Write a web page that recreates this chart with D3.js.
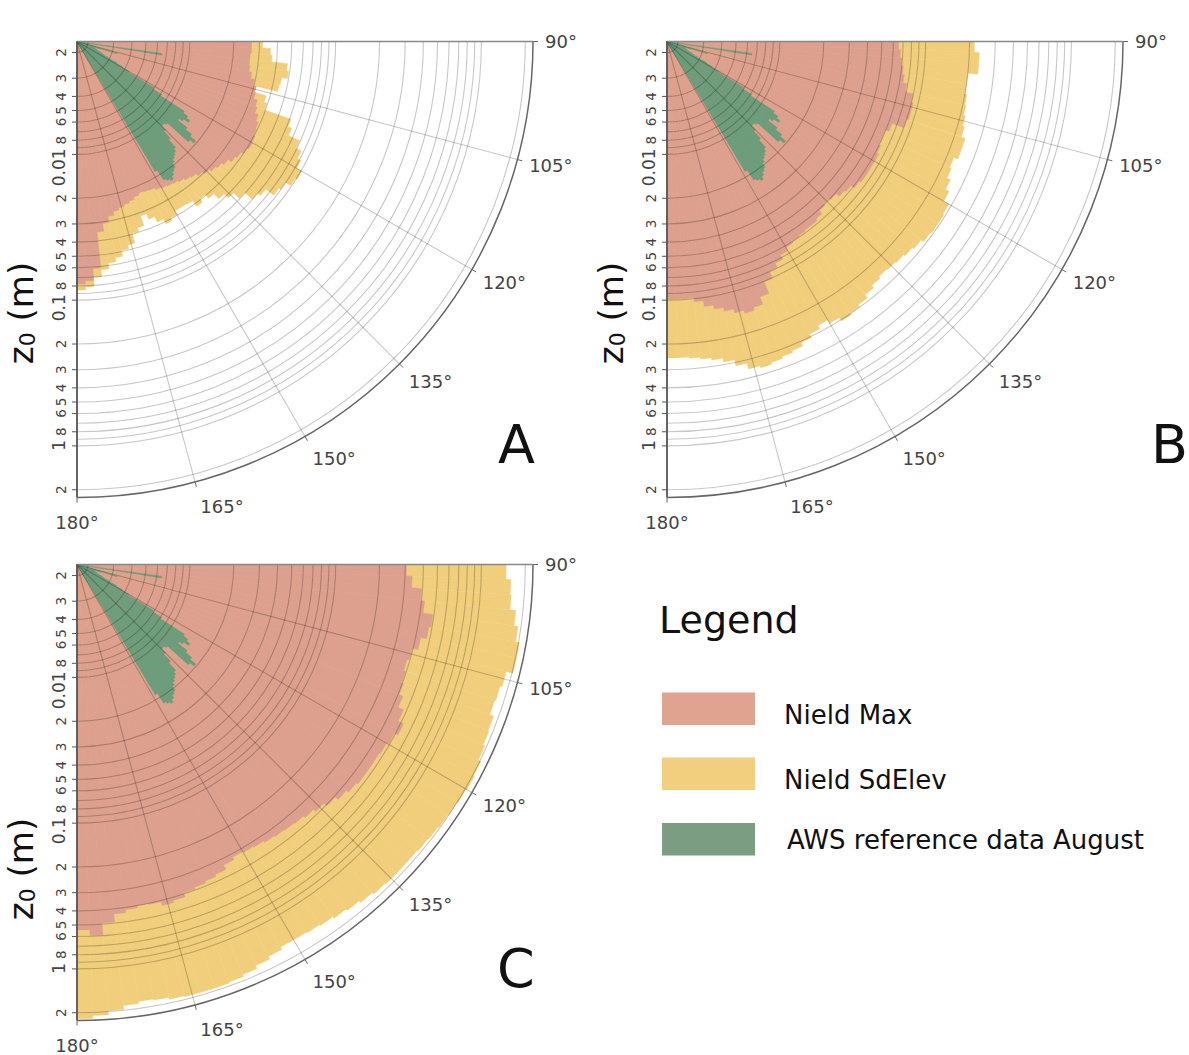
<!DOCTYPE html>
<html>
<head>
<meta charset="utf-8">
<script src="https://cdn.jsdelivr.net/npm/d3@7"></script>
<style>
  html, body { margin: 0; padding: 0; background: #fff; }
  svg { display: block; font-family: "DejaVu Sans", Verdana, sans-serif; }
</style>
</head>
<body>
<svg id="chart" width="1189" height="1055"></svg>
<script>
// Wind-direction sectors (start of each 2° bin, degrees)
const sectorDeg = [90, 92, 94, 96, 98, 100, 102, 104, 106, 108, 110, 112, 114, 116, 118,
  120, 122, 124, 126, 128, 130, 132, 134, 136, 138, 140, 142, 144, 146, 148,
  150, 152, 154, 156, 158, 160, 162, 164, 166, 168, 170, 172, 174, 176, 178];

// Roughness length z0 (m) per sector — panel A
const nieldMaxA = [0.0265, 0.0265, 0.0261, 0.0261, 0.0265, 0.0278, 0.0296, 0.0311, 0.0316, 0.0336,
  0.0347, 0.0370, 0.0388, 0.0394, 0.0406, 0.0413, 0.0400, 0.0382, 0.0370, 0.0347,
  0.0331, 0.0321, 0.0306, 0.0292, 0.0278, 0.0270, 0.0261, 0.0253, 0.0249, 0.0245,
  0.0238, 0.0230, 0.0227, 0.0223, 0.0230, 0.0238, 0.0245, 0.0253, 0.0261, 0.0278,
  0.0306, 0.0347, 0.0612, 0.0740, 0.0776];
const nieldSdA = [0.0316, 0.0358, 0.0370, 0.0476, 0.0491, 0.0447, 0.0440, 0.0287, 0.0376, 0.0394,
  0.0612, 0.0652, 0.0788, 0.0866, 0.0923, 0.101, 0.0983, 0.0894, 0.0866, 0.0740,
  0.0695, 0.0593, 0.0523, 0.0476, 0.0426, 0.0394, 0.0420, 0.0376, 0.0370, 0.0370,
  0.0394, 0.0413, 0.0382, 0.0347, 0.0316, 0.0370, 0.0394, 0.0461, 0.0491, 0.0540,
  0.0575, 0.0632, 0.0706, 0.0813, 0.0853];

// Panel B
const nieldMaxB = [0.0652, 0.0673, 0.0695, 0.0717, 0.0740, 0.0788, 0.0894, 0.0923, 0.0923, 0.0894,
  0.0740, 0.0695, 0.0695, 0.0717, 0.0740, 0.0740, 0.0740, 0.0740, 0.0717, 0.0673,
  0.0652, 0.0612, 0.0593, 0.0612, 0.0652, 0.0673, 0.0673, 0.0684, 0.0695, 0.0717,
  0.0764, 0.0826, 0.0894, 0.101, 0.123, 0.139, 0.146, 0.139, 0.131, 0.123,
  0.115, 0.105, 0.0983, 0.0983, 0.0983];
const nieldSdB = [0.216, 0.234, 0.234, 0.200, 0.200, 0.206, 0.210, 0.216, 0.223, 0.238,
  0.238, 0.223, 0.230, 0.245, 0.261, 0.287, 0.292, 0.292, 0.287, 0.274,
  0.265, 0.257, 0.253, 0.249, 0.257, 0.270, 0.287, 0.297, 0.306, 0.287,
  0.270, 0.287, 0.306, 0.326, 0.336, 0.347, 0.358, 0.347, 0.316, 0.287,
  0.270, 0.261, 0.253, 0.249, 0.249];

// Panel C
const nieldMaxC = [0.306, 0.336, 0.394, 0.420, 0.491, 0.476, 0.433, 0.394, 0.382, 0.394,
  0.406, 0.433, 0.476, 0.523, 0.491, 0.476, 0.468, 0.468, 0.468, 0.454,
  0.433, 0.406, 0.382, 0.364, 0.353, 0.347, 0.342, 0.336, 0.326, 0.321,
  0.316, 0.331, 0.358, 0.370, 0.382, 0.394, 0.420, 0.433, 0.406, 0.400,
  0.413, 0.433, 0.491, 0.593, 0.540];
const nieldSdC = [1.48, 1.60, 1.63, 1.79, 1.91, 2.03, 2.03, 1.82, 1.76, 1.73,
  1.85, 1.88, 1.94, 2.03, 2.06, 2.03, 2.00, 1.97, 1.94, 1.91,
  1.88, 1.88, 1.88, 1.85, 1.79, 1.73, 1.68, 1.63, 1.60, 1.58,
  1.58, 1.65, 1.73, 1.82, 1.88, 1.91, 1.91, 1.91, 1.88, 1.82,
  1.79, 1.85, 1.97, 2.10, 2.20];

// AWS reference data, August (1° bins, start angle)
const awsDeg = [98, 106, 107, 108, 109, 110, 111, 112, 113, 114, 115, 116, 117, 118, 119,
  120, 121, 122, 123, 124, 125, 126, 127, 128, 129, 130, 131, 132, 133, 134,
  135, 136, 137, 138, 139, 140, 141, 142, 143, 144, 145, 146, 147, 148];
const awsAugust = [0.00652, 0.00326, 0.00249, 0.00230, 0.00223, 0.00230, 0.00223, 0.00237, 0.00230, 0.00249,
  0.00261, 0.00270, 0.00292, 0.00341, 0.00381, 0.00433, 0.00694, 0.00813, 0.0127, 0.0139,
  0.0148, 0.0135, 0.0127, 0.0153, 0.0173, 0.0194, 0.0179, 0.0115, 0.0111, 0.0111,
  0.0121, 0.0141, 0.0165, 0.0173, 0.0179, 0.0185, 0.0194, 0.0209, 0.0216, 0.0227,
  0.0238, 0.0230, 0.0222, 0.0185];

// Axis ticks
const radialTicks = [0.002, 0.003, 0.004, 0.005, 0.006, 0.008, 0.01,
  0.02, 0.03, 0.04, 0.05, 0.06, 0.08, 0.1,
  0.2, 0.3, 0.4, 0.5, 0.6, 0.8, 1, 2];
const radialTickLabels = ["2", "3", "4", "5", "6", "8", "0.01",
  "2", "3", "4", "5", "6", "8", "0.1",
  "2", "3", "4", "5", "6", "8", "1", "2"];
const decadeTicks = [0.01, 0.1, 1];
const angleTicks = [90, 105, 120, 135, 150, 165, 180];
const angleTickLabels = ["90°", "105°", "120°", "135°", "150°", "165°", "180°"];

const seriesNames = ["Nield Max", "Nield SdElev", "AWS reference data August"];
const seriesColors = ["#dda08e", "#f1ce7c", "#6b9d7b"];
const legendColors = ["#e0a390", "#f2cf7f", "#7b9e83"];

const svg = d3.select("#chart");
const R = 456;
const rScale = d3.scaleLog().domain([0.00168, 2.26]).range([0, R]);
const rad = d => d * Math.PI / 180;
const arc = d3.arc().innerRadius(0);

const panels = [
  { letter: "A", cx: 77, cy: 41.5, max: nieldMaxA, sd: nieldSdA, lx: 498, ly: 463, tx: 33, ty: 313 },
  { letter: "B", cx: 667, cy: 41.5, max: nieldMaxB, sd: nieldSdB, lx: 1151, ly: 463, tx: 623, ty: 313 },
  { letter: "C", cx: 77, cy: 564.5, max: nieldMaxC, sd: nieldSdC, lx: 497, ly: 987, tx: 33, ty: 869 }
];

function sectorPath(deg, width, value) {
  return arc({ outerRadius: rScale(value), startAngle: rad(deg), endAngle: rad(deg + width) });
}

function drawPanel(p) {
  const g = svg.append("g").attr("transform", `translate(${p.cx},${p.cy})`);

  // bars: SdElev underneath, Max over it, AWS on top
  const layers = [
    { vals: p.sd, deg: sectorDeg, w: 2, color: seriesColors[1] },
    { vals: p.max, deg: sectorDeg, w: 2, color: seriesColors[0] },
    { vals: awsAugust, deg: awsDeg, w: 1, color: seriesColors[2] }
  ];
  layers.forEach(L => {
    g.append("g").selectAll("path")
      .data(L.deg.map((d, i) => ({ d, v: L.vals[i] })))
      .join("path")
      .attr("d", e => sectorPath(e.d, L.w, e.v))
      .attr("fill", L.color)
      .attr("stroke", L.color)
      .attr("stroke-width", 0.5);
  });

  // radial grid (every log minor step)
  const gridVals = rScale.ticks().filter(v => v > 0.0017 && v < 2.25);
  const grid = g.append("g").attr("fill", "none").attr("stroke", "rgba(0,0,0,0.22)").attr("stroke-width", 1.1);
  grid.selectAll("path.ring").data(gridVals).join("path").attr("class", "ring")
    .attr("d", v => { const p2 = d3.path(); const rr = rScale(v); p2.moveTo(rr, 0); p2.arc(0, 0, rr, 0, Math.PI / 2); return p2.toString(); });
  // angular spokes
  grid.selectAll("line").data(angleTicks.slice(1, -1)).join("line")
    .attr("x1", 0).attr("y1", 0)
    .attr("x2", a => R * Math.sin(rad(a))).attr("y2", a => -R * Math.cos(rad(a)));

  // outer boundary and sector edges
  const outer = d3.path(); outer.moveTo(R, 0); outer.arc(0, 0, R, 0, Math.PI / 2);
  g.append("path").attr("d", outer.toString()).attr("fill", "none").attr("stroke", "#666").attr("stroke-width", 1.5);
  g.append("line").attr("x1", 0).attr("y1", 0).attr("x2", R).attr("y2", 0).attr("stroke", "#888").attr("stroke-width", 1.5);
  g.append("line").attr("x1", 0).attr("y1", 0).attr("x2", 0).attr("y2", R).attr("stroke", "#555").attr("stroke-width", 1.8);

  // angular ticks and labels
  angleTicks.forEach((a, i) => {
    const sx = Math.sin(rad(a)), sy = -Math.cos(rad(a));
    g.append("line").attr("x1", R * sx).attr("y1", R * sy).attr("x2", (R + 5) * sx).attr("y2", (R + 5) * sy)
      .attr("stroke", "#666").attr("stroke-width", 1);
    const px = (R + 9) * sx, py = (R + 9) * sy;
    const isSouth = sx < 0.1;
    g.append("text")
      .attr("x", isSouth ? px : px + 3)
      .attr("y", py + 16 * sy)
      .attr("dominant-baseline", "central")
      .attr("text-anchor", isSouth ? "middle" : "start")
      .attr("font-size", 18).attr("fill", "#444")
      .text(angleTickLabels[i]);
  });

  // radial axis ticks and labels (vertical axis at 180°)
  radialTicks.forEach((v, i) => {
    const y = rScale(v);
    g.append("line").attr("x1", 0).attr("x2", -5).attr("y1", y).attr("y2", y).attr("stroke", "#555").attr("stroke-width", 1);
    const decade = decadeTicks.includes(v);
    g.append("text")
      .attr("transform", decade ? `translate(-12,${y - 6}) rotate(-90)` : `translate(-11,${y}) rotate(-90)`)
      .attr("text-anchor", decade ? "end" : "middle")
      .attr("font-size", decade ? 17 : 13.5)
      .attr("fill", "#444")
      .text(radialTickLabels[i]);
  });

  // radial axis title
  const t = svg.append("text")
    .attr("transform", `translate(${p.tx},${p.ty}) rotate(-90)`)
    .attr("text-anchor", "middle").attr("font-size", 34).attr("fill", "#111");
  t.append("tspan").text("z");
  t.append("tspan").attr("font-size", 22).attr("dy", 2).text("0");
  t.append("tspan").attr("dy", -2).text(" (m)");

  // panel letter
  svg.append("text").attr("x", p.lx).attr("y", p.ly).attr("font-size", 54).attr("fill", "#111").text(p.letter);
}

panels.forEach(drawPanel);

// legend
const leg = svg.append("g");
leg.append("text").attr("x", 659).attr("y", 633).attr("font-size", 38).attr("fill", "#111").text("Legend");
const legendRows = [
  { y: 692.5, ty: 724 },
  { y: 757.5, ty: 789 },
  { y: 823, ty: 849 }
];
seriesNames.forEach((name, i) => {
  leg.append("rect").attr("x", 662).attr("y", legendRows[i].y).attr("width", 93).attr("height", 32.5)
    .attr("fill", legendColors[i]);
  leg.append("text").attr("x", i === 2 ? 787 : 784).attr("y", legendRows[i].ty)
    .attr("font-size", 26).attr("fill", "#111").text(name);
});
</script>
</body>
</html>
